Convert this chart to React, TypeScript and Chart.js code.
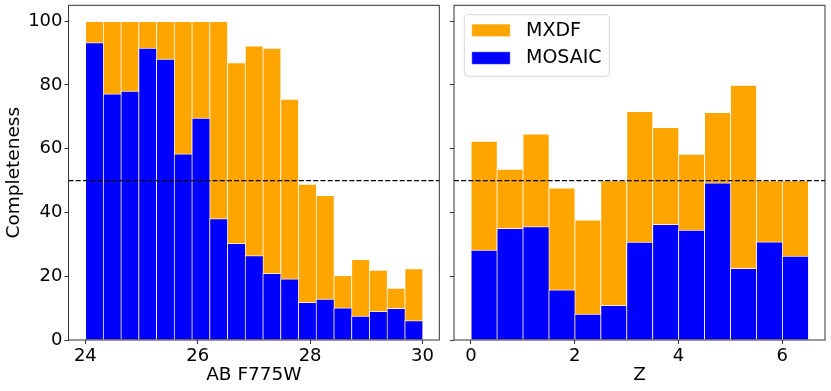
import React, { useEffect, useRef } from 'react';
import { Chart, registerables } from 'chart.js';

Chart.register(...registerables);

// ---------- data ----------
const magRange = [24, 30]; // histogram range of AB F775W
const magMXDF = [100, 100, 100, 100, 100, 100, 100, 100, 87.0, 92.3, 91.6, 75.6, 48.9, 45.4, 20.3, 25.3, 21.9, 16.3, 22.4];
const magMOSAIC = [93.3, 77.2, 78.1, 91.6, 88.1, 58.4, 69.6, 38.1, 30.3, 26.5, 20.9, 19.2, 11.8, 12.8, 10.1, 7.5, 9.0, 9.9, 6.1];
const magTicks = [24, 26, 28, 30];

const zRange = [0, 6.5]; // histogram range of Z
const zMXDF = [62.4, 53.6, 64.7, 47.7, 37.7, 50.0, 71.7, 66.7, 58.3, 71.4, 80.0, 50.0, 50.0];
const zMOSAIC = [28.2, 35.0, 35.6, 15.7, 8.1, 10.9, 30.7, 36.3, 34.5, 49.3, 22.5, 30.8, 26.3];
const zTicks = [0, 2, 4, 6];

const yTicks = [0, 20, 40, 60, 80, 100];
const threshold = 50;
const seriesNames = ['MXDF', 'MOSAIC'];
const seriesColors = ['#FFA500', '#0000FF'];

const FONT = "'DejaVu Sans', sans-serif";

function centers(range: number[], n: number) {
  const w = (range[1] - range[0]) / n;
  return Array.from({ length: n }, (_, i) => range[0] + w * (i + 0.5));
}

const framePlugin = {
  id: 'frameAndThreshold',
  afterDatasetsDraw(chart: any) {
    const { ctx, chartArea: a, scales } = chart;
    const y = scales.y.getPixelForValue(threshold);
    ctx.save();
    ctx.strokeStyle = '#000';
    ctx.lineWidth = 1.3;
    ctx.setLineDash([5, 2.2]);
    ctx.beginPath();
    ctx.moveTo(a.left, y);
    ctx.lineTo(a.right, y);
    ctx.stroke();
    ctx.setLineDash([]);
    ctx.strokeStyle = '#333';
    ctx.lineWidth = 1;
    ctx.strokeRect(a.left, a.top, a.right - a.left, a.bottom - a.top);
    ctx.restore();
  },
};

const legendPlugin = {
  id: 'boxLegend',
  afterDraw(chart: any) {
    const { ctx, chartArea: a } = chart;
    const fx = a.left + 10.3;
    const fy = a.top + 9.4;
    const fw = 145;
    const fh = 61.6;
    ctx.save();
    ctx.beginPath();
    if (ctx.roundRect) ctx.roundRect(fx, fy, fw, fh, 4);
    else ctx.rect(fx, fy, fw, fh);
    ctx.fillStyle = 'rgba(255,255,255,0.8)';
    ctx.fill();
    ctx.strokeStyle = '#d6d6d6';
    ctx.lineWidth = 1;
    ctx.stroke();
    ctx.font = `19px ${FONT}`;
    ctx.textBaseline = 'middle';
    ctx.textAlign = 'left';
    seriesNames.forEach((name, i) => {
      const px = fx + 7.4;
      const py = fy + 9.3 + i * 27.7;
      ctx.fillStyle = seriesColors[i];
      ctx.fillRect(px, py, 38.6, 12.7);
      ctx.strokeStyle = 'rgba(255,255,255,0.6)';
      ctx.strokeRect(px, py, 38.6, 12.7);
      ctx.fillStyle = '#000';
      ctx.fillText(name, px + 38.6 + 15.7, py + 6.6);
    });
    ctx.restore();
  },
};

function makeConfig(p: {
  range: number[];
  mxdf: number[];
  mosaic: number[];
  xMin: number;
  xMax: number;
  xTicks: number[];
  xTitle: string;
  showY: boolean;
  yWidth: number;
  padding: any;
  legend: boolean;
}) {
  const xs = centers(p.range, p.mxdf.length);
  const mk = (vals: number[]) => vals.map((v, i) => ({ x: xs[i], y: v }));
  const barStyle = {
    borderColor: 'rgba(255,255,255,0.75)',
    borderWidth: { left: 1, right: 0, top: 1, bottom: 0 },
    borderSkipped: false,
    grouped: false,
    barPercentage: 1,
    categoryPercentage: 1,
  };
  return {
    type: 'bar',
    data: {
      datasets: [
        { label: seriesNames[1], data: mk(p.mosaic), backgroundColor: seriesColors[1], order: 1, ...barStyle },
        { label: seriesNames[0], data: mk(p.mxdf), backgroundColor: seriesColors[0], order: 2, ...barStyle },
      ],
    },
    options: {
      responsive: false,
      animation: false,
      events: [],
      layout: { padding: p.padding, autoPadding: false },
      plugins: { legend: { display: false }, tooltip: { enabled: false }, title: { display: false } },
      scales: {
        x: {
          type: 'linear',
          offset: false,
          min: p.xMin,
          max: p.xMax,
          afterBuildTicks: (s: any) => {
            s.ticks = p.xTicks.map((v) => ({ value: v }));
          },
          afterFit: (s: any) => {
            s.height = 51;
            s.paddingLeft = 0;
            s.paddingRight = 0;
          },
          border: { display: false },
          grid: { offset: false, drawOnChartArea: false, drawTicks: true, tickLength: 4, color: '#333' },
          ticks: { font: { family: FONT, size: 18 }, color: '#000', padding: 2, maxRotation: 0 },
          title: { display: true, text: p.xTitle, font: { family: FONT, size: 18.5 }, color: '#000', padding: { top: 0, bottom: 5 } },
        },
        y: {
          type: 'linear',
          min: 0,
          max: 105,
          afterBuildTicks: (s: any) => {
            s.ticks = yTicks.map((v) => ({ value: v }));
          },
          afterFit: (s: any) => {
            s.width = p.yWidth;
            s.paddingTop = 0;
            s.paddingBottom = 0;
          },
          border: { display: false },
          grid: { drawOnChartArea: false, drawTicks: true, tickLength: 4, color: '#333' },
          ticks: { display: p.showY, font: { family: FONT, size: 18 }, color: '#000', padding: 2 },
          title: {
            display: p.showY,
            text: 'Completeness',
            font: { family: FONT, size: 18.5 },
            color: '#000',
            padding: { top: 3, bottom: 0 },
          },
        },
      },
    },
    plugins: p.legend ? [framePlugin, legendPlugin] : [framePlugin],
  };
}

export default function App() {
  const leftRef = useRef<HTMLCanvasElement>(null);
  const rightRef = useRef<HTMLCanvasElement>(null);

  useEffect(() => {
    const left = new Chart(
      leftRef.current as HTMLCanvasElement,
      makeConfig({
        range: magRange,
        mxdf: magMXDF,
        mosaic: magMOSAIC,
        xMin: 23.7,
        xMax: 30.3,
        xTicks: magTicks,
        xTitle: 'AB F775W',
        showY: true,
        yWidth: 68.5,
        padding: { left: 0, top: 5.3, right: 5.7, bottom: 0 },
        legend: false,
      }) as any
    );
    const right = new Chart(
      rightRef.current as HTMLCanvasElement,
      makeConfig({
        range: zRange,
        mxdf: zMXDF,
        mosaic: zMOSAIC,
        xMin: -0.325,
        xMax: 6.825,
        xTicks: zTicks,
        xTitle: 'Z',
        showY: false,
        yWidth: 9,
        padding: { left: 0, top: 5.3, right: 6, bottom: 0 },
        legend: true,
      }) as any
    );
    return () => {
      left.destroy();
      right.destroy();
    };
  }, []);

  return (
    <div style={{ position: 'absolute', left: 0, top: 0, width: 831, height: 391, background: '#fff' }}>
      <canvas ref={leftRef} width={445} height={391} style={{ position: 'absolute', left: 0, top: 0, width: 445, height: 391 }} />
      <canvas ref={rightRef} width={386} height={391} style={{ position: 'absolute', left: 445, top: 0, width: 386, height: 391 }} />
    </div>
  );
}
